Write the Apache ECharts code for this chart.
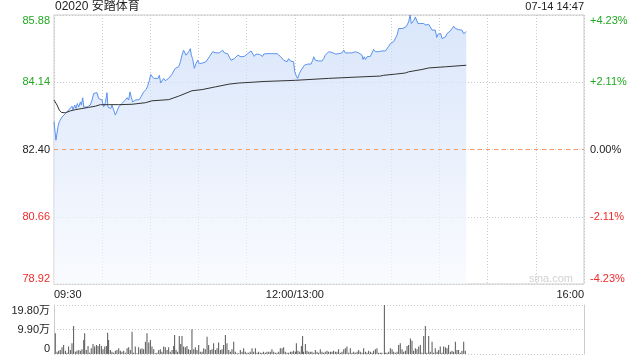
<!DOCTYPE html>
<html><head><meta charset="utf-8">
<script src="https://cdn.jsdelivr.net/npm/echarts@6.0.0/dist/echarts.min.js"></script>
<style>html,body{margin:0;padding:0;background:#fff}#c{width:640px;height:360px}</style>
</head><body><div id="c"></div>
<script>
const stockTitle = '02020 安踏体育';
const timestamp = '07-14 14:47';
const watermark = 'sina.com';
const prevClose = 82.40;
const priceTicks = [78.92, 80.66, 82.40, 84.14, 85.88];
const priceTickLabels = ['78.92', '80.66', '82.40', '84.14', '85.88'];
const pctTickLabels = ['-4.23%', '-2.11%', '0.00%', '+2.11%', '+4.23%'];
const timeTickMinutes = [0, 150, 330];
const timeTickLabels = ['09:30', '12:00/13:00', '16:00'];
const volTicks = [0, 9.9, 19.8];
const volTickLabels = ['0', '9.90万', '19.80万'];

// minutes since 09:30 (trading minutes) and prices
const priceMinutes = [0,1.2,2.5,3.3,4.2,5.0,6.0,7.1,8.1,9.1,10.2,11.2,11.8,12.9,13.7,14.5,15.4,16.4,17.0,17.9,18.5,19.5,20.6,21.6,22.6,23.7,24.7,25.7,26.8,27.8,28.9,29.9,30.9,32.0,33.0,33.6,34.5,35.3,36.1,37.2,38.2,39.2,40.3,41.3,42.3,43.4,44.4,45.5,46.5,47.3,48.2,49.0,49.6,50.6,51.7,53.1,54.4,55.8,57.3,58.3,59.4,60.2,61.0,62.1,63.5,64.8,65.6,66.4,67.3,68.3,69.3,70.4,71.4,72.4,73.5,74.5,75.6,76.6,77.6,78.7,79.7,80.7,81.4,82.2,82.8,83.9,84.9,85.5,86.3,87.4,88.4,89.5,90.5,91.5,92.6,93.6,94.6,95.7,96.7,97.8,98.8,99.8,100.9,101.9,102.9,104.0,105.0,106.1,107.1,108.1,109.2,110.2,111.3,112.3,113.3,114.4,115.4,116.4,117.5,118.5,119.6,120.6,121.6,122.7,123.7,124.7,125.8,126.8,127.9,128.9,129.9,130.6,131.6,132.6,133.7,134.7,135.7,136.8,137.8,138.9,139.9,140.9,142.0,143.0,144.0,145.1,146.1,147.2,148.2,149.2,149.9,150.7,151.7,152.8,153.8,154.8,155.9,156.9,157.9,159.0,160.0,161.1,161.7,162.7,163.8,164.8,165.8,166.9,167.9,168.9,170.0,171.0,172.1,173.1,174.1,175.2,176.2,177.3,178.3,179.3,180.4,181.4,182.4,183.5,184.5,185.6,186.6,187.6,188.7,189.7,190.7,191.8,192.4,193.2,193.9,194.9,195.9,197.0,198.0,199.0,200.1,201.1,202.2,203.2,204.2,205.3,206.3,207.3,208.4,209.4,210.5,211.5,212.5,213.6,214.6,215.6,216.7,217.7,218.8,219.8,220.8,221.7,222.5,223.3,224.2,225.0,225.8,226.6,227.5,228.3,229.1,230.0,230.8,231.6,232.5,233.3,234.3,235.4,236.4,237.4,238.3,239.1,239.9,240.8,241.6,242.6,243.7,244.7,245.7,246.8,247.8,248.9,249.9,250.9,252.0,253.0,254.0,255.1,256.1,256.7];
const prices = [83.12,82.64,82.99,83.12,83.07,83.24,83.20,83.33,83.35,83.42,83.42,83.52,83.43,83.55,83.46,83.59,83.50,83.63,83.55,83.74,83.50,83.55,83.50,83.52,83.55,83.68,83.85,83.90,83.87,83.72,83.69,83.68,83.50,83.61,83.87,83.50,83.55,83.46,83.55,83.50,83.29,83.29,83.50,83.55,83.59,83.55,83.68,83.74,83.68,83.89,83.74,83.63,83.61,83.68,83.69,83.69,83.78,83.89,83.95,84.04,84.19,84.34,84.30,84.24,84.24,84.24,84.32,84.12,84.12,84.24,84.18,84.21,84.24,84.28,84.35,84.43,84.50,84.50,84.54,84.67,84.84,84.97,85.01,84.84,84.80,84.93,85.01,84.84,84.75,84.50,84.62,84.71,84.62,84.67,84.64,84.67,84.67,84.71,84.80,84.84,84.93,84.88,84.90,84.87,84.90,84.87,84.97,84.90,84.95,84.88,84.90,84.71,84.75,84.75,84.80,84.84,84.88,84.80,84.75,84.81,84.84,84.88,84.91,84.95,84.93,84.81,84.87,84.84,84.86,84.84,84.81,84.87,84.84,84.88,84.93,84.88,84.86,84.88,84.87,84.88,84.84,84.81,84.80,84.71,84.67,84.67,84.75,84.69,84.73,84.67,84.41,84.32,84.24,84.37,84.45,84.50,84.58,84.61,84.61,84.61,84.61,84.71,84.80,84.71,84.73,84.69,84.71,84.69,84.75,84.84,84.88,84.93,84.88,84.91,84.90,84.87,84.84,84.88,84.88,84.90,84.97,84.90,84.90,84.90,84.93,84.90,84.93,84.93,84.88,84.90,84.88,84.84,84.73,84.80,84.73,84.80,84.84,84.81,84.90,84.99,84.93,84.95,84.93,84.97,84.95,84.95,84.95,84.93,85.07,85.14,85.19,85.19,85.16,85.36,85.53,85.56,85.53,85.53,85.56,85.62,85.70,85.88,85.66,85.62,85.75,85.83,85.79,85.66,85.62,85.66,85.62,85.66,85.69,85.62,85.64,85.64,85.62,85.49,85.44,85.49,85.30,85.38,85.36,85.40,85.27,85.25,85.31,85.40,85.44,85.47,85.53,85.59,85.53,85.50,85.50,85.49,85.49,85.40,85.44,85.45];

const avgMinutes = [0,1.9,3.3,4.6,7.1,10.2,13.3,17.4,21.6,25.7,28.9,34.0,40.3,48.6,56.9,61.0,71.4,77.6,85.9,92.2,100.5,108.8,115.0,123.3,130.8,150.3,171.0,191.8,203.2,205.3,212.5,218.8,220.8,229.1,233.3,243.7,256.7];
const avgPrices = [83.68,83.55,83.42,83.36,83.35,83.40,83.43,83.46,83.49,83.52,83.56,83.56,83.56,83.57,83.61,83.66,83.69,83.78,83.92,83.95,84.02,84.09,84.12,84.14,84.16,84.19,84.24,84.28,84.30,84.32,84.35,84.38,84.41,84.47,84.51,84.54,84.58];

// volume, in 万 shares
const volMinutes = [0.8,1.9,2.9,3.9,5.0,6.0,7.1,8.1,9.1,10.2,11.2,12.2,13.3,14.3,15.4,16.4,17.4,18.5,19.1,20.1,21.2,22.2,23.2,24.3,25.3,26.4,27.4,28.4,29.5,30.5,31.6,32.6,33.4,34.0,35.1,36.1,37.1,38.2,39.2,40.3,41.3,42.3,43.4,44.4,45.5,46.5,47.5,48.6,49.6,50.6,51.7,52.7,53.8,54.8,55.8,56.9,57.9,59.0,60.0,61.0,62.1,63.1,64.1,65.2,66.2,67.2,68.3,69.3,70.4,71.4,72.4,73.5,74.5,75.1,76.0,77.0,78.0,78.9,79.7,80.7,81.8,82.8,83.8,84.9,85.9,87.0,88.0,89.0,90.1,91.1,92.2,93.2,94.2,95.3,96.3,97.3,98.4,99.4,100.5,101.5,102.5,103.6,104.6,105.6,106.7,107.7,108.8,109.8,110.8,111.9,112.9,114.0,115.0,116.0,117.1,118.1,119.1,120.2,121.2,122.2,123.3,124.3,125.4,126.4,127.4,128.5,129.5,130.5,131.6,132.6,133.7,134.7,135.7,136.8,137.8,138.9,139.9,140.9,142.0,143.0,144.0,145.1,146.1,147.2,148.2,149.2,150.3,150.9,151.9,153.0,154.0,154.8,155.4,156.5,157.5,158.6,159.6,160.6,161.7,162.7,163.8,164.8,165.8,166.9,167.9,168.9,170.0,171.0,172.1,173.1,174.1,175.2,176.2,177.2,178.3,179.3,180.4,181.4,182.4,183.5,184.5,185.6,186.6,187.6,188.7,189.7,190.7,191.8,192.8,193.9,194.9,195.9,197.0,198.0,199.0,200.1,201.1,202.2,203.2,204.2,205.7,206.3,207.3,208.4,209.4,210.5,211.5,212.5,213.6,214.6,215.6,216.7,217.7,218.8,219.8,220.8,221.9,222.9,223.9,225.0,226.0,227.1,228.1,229.1,230.2,231.2,232.2,233.3,234.3,235.4,236.4,237.4,238.5,239.5,240.5,241.6,242.6,243.7,244.7,245.7,246.8,247.8,248.8,249.9,250.9,251.9,253.0,254.0,255.1,256.1];
const volumes = [8.4,0.9,1.3,1.6,2.7,3.6,1.3,0.5,3.0,1.6,4.3,11.3,0.9,1.3,1.6,1.3,1.9,5.7,8.4,1.6,3.2,0.5,2.3,4.0,3.0,3.6,3.2,4.0,3.2,1.9,3.0,3.2,8.6,5.7,1.6,0.9,0.5,1.3,1.6,2.3,1.3,0.9,1.3,0.5,2.3,2.7,1.6,9.0,0.5,3.0,0.3,2.7,1.9,2.3,1.9,5.0,8.4,4.6,5.7,3.0,1.9,0.3,0.5,1.6,1.9,0.9,3.0,2.7,1.6,2.7,0.9,1.6,3.2,7.7,1.6,0.9,7.3,4.0,7.3,3.0,2.7,3.2,1.9,1.6,10.0,1.9,2.7,1.6,3.6,0.9,0.9,2.3,1.9,7.0,3.6,1.6,1.9,4.3,1.6,2.3,4.6,1.6,1.9,3.6,7.7,4.3,1.6,0.9,1.9,5.0,0.9,0.3,0.3,1.6,0.9,2.3,0.9,0.5,0.5,0.9,2.3,0.9,2.3,0.5,0.9,0.5,0.5,0.9,0.5,0.9,0.9,0.9,1.9,0.9,0.5,0.5,0.9,2.3,2.3,2.7,0.9,0.5,0.5,0.9,0.9,1.3,0.9,4.3,1.3,0.9,3.2,7.3,0.9,4.0,1.3,0.9,0.9,0.9,0.5,1.6,0.9,0.5,1.9,0.9,0.5,0.9,1.3,0.9,0.9,0.9,1.3,0.9,0.9,1.9,0.5,0.9,1.9,2.3,3.0,0.5,2.3,0.5,0.9,0.5,0.9,1.6,0.9,0.5,2.3,0.9,0.5,1.3,0.9,0.5,1.3,1.9,2.3,0.5,0.5,0.5,19.8,0.5,0.5,0.9,2.3,1.9,0.9,0.5,0.9,3.6,4.3,1.9,0.9,1.3,3.2,3.6,6.3,5.4,1.3,2.3,1.9,3.0,3.6,0.5,7.3,11.3,0.5,7.3,0.9,5.0,0.5,2.3,0.9,1.6,3.0,0.5,3.0,2.7,2.3,3.6,0.9,1.3,0.9,5.0,1.6,1.6,0.5,1.3,5.0,1.3];

const FONT = '"Liberation Sans", Arial, "Noto Sans CJK SC", sans-serif';
const UP = '#22a822', DOWN = '#ee2a2a', FLAT = '#222';
function tickIndex(ticks, v) {
  let best = 0;
  ticks.forEach((t, i) => { if (Math.abs(t - v) < Math.abs(ticks[best] - v)) best = i; });
  return best;
}
function styleKey(i) { return i > 2 ? 'up' : (i < 2 ? 'dn' : 'eq'); }
const rich = {
  up: { color: UP, fontSize: 11, fontFamily: FONT },
  dn: { color: DOWN, fontSize: 11, fontFamily: FONT },
  eq: { color: FLAT, fontSize: 11, fontFamily: FONT }
};
const dotted = { color: '#c8c8c8', type: [1, 2], width: 1 };

const pricePoints = priceMinutes.map((m, i) => [m, prices[i]]);
const avgPoints = avgMinutes.map((m, i) => [m, avgPrices[i]]);
const volPoints = volMinutes.map((m, i) => [m, volumes[i]]);

const chart = echarts.init(document.getElementById('c'), null, { renderer: 'canvas' });
chart.setOption({
  animation: false,
  backgroundColor: '#fff',
  textStyle: { fontFamily: FONT },
  title: [
    { text: stockTitle, left: 50, top: -4, textStyle: { fontSize: 12, fontWeight: 'normal', color: '#222', fontFamily: FONT } },
    { text: timestamp, right: 51, top: -4, textStyle: { fontSize: 11, fontWeight: 'normal', color: '#222', fontFamily: FONT } }
  ],
  graphic: [{
    type: 'text', x: 573, y: 279, silent: true,
    style: { text: watermark, align: 'right', verticalAlign: 'middle', fill: '#d2d2d2', fontSize: 11, fontFamily: FONT }
  }],
  grid: [
    { left: 54, top: 15, width: 530, height: 269, show: true, borderColor: '#cccccc', borderWidth: 1 },
    { left: 54, top: 305, width: 530, height: 49, show: false }
  ],
  xAxis: [
    {
      type: 'value', gridIndex: 0, min: 0, max: 330, interval: 30,
      axisLine: { show: false }, axisTick: { show: false },
      splitLine: { show: true, lineStyle: dotted },
      axisLabel: {
        show: true, color: '#222', fontSize: 11, margin: 5, hideOverlap: false,
        showMinLabel: true, showMaxLabel: true, alignMinLabel: 'left', alignMaxLabel: 'right',
        formatter: v => { const k = timeTickMinutes.indexOf(Math.round(v)); return k >= 0 ? timeTickLabels[k] : ''; }
      }
    },
    {
      type: 'value', gridIndex: 1, min: 0, max: 330, interval: 30,
      axisLine: { show: false }, axisTick: { show: false }, splitLine: { show: false }, axisLabel: { show: false }
    }
  ],
  yAxis: [
    {
      type: 'value', gridIndex: 0, min: priceTicks[0], max: priceTicks[4], interval: 1.74,
      axisLine: { show: false }, axisTick: { show: false },
      splitLine: { show: true, lineStyle: dotted },
      axisLabel: {
        margin: 4, rich, verticalAlignMinLabel: 'bottom', verticalAlignMaxLabel: 'top',
        formatter: v => { const i = tickIndex(priceTicks, v); return '{' + styleKey(i) + '|' + priceTickLabels[i] + '}'; }
      }
    },
    {
      type: 'value', gridIndex: 0, position: 'right', min: priceTicks[0], max: priceTicks[4], interval: 1.74,
      axisLine: { show: false }, axisTick: { show: false }, splitLine: { show: false },
      axisLabel: {
        margin: 6, rich, verticalAlignMinLabel: 'bottom', verticalAlignMaxLabel: 'top',
        formatter: v => { const i = tickIndex(priceTicks, v); return '{' + styleKey(i) + '|' + pctTickLabels[i] + '}'; }
      }
    },
    {
      type: 'value', gridIndex: 1, min: 0, max: 19.8, interval: 9.9,
      axisLine: { show: true, lineStyle: { color: '#cccccc' } }, axisTick: { show: false },
      splitLine: { show: true, lineStyle: dotted },
      axisLabel: {
        margin: 4, color: '#222', fontSize: 11, verticalAlignMinLabel: 'bottom', verticalAlignMaxLabel: 'top',
        formatter: v => volTickLabels[tickIndex(volTicks, v)]
      }
    },
    {
      type: 'value', gridIndex: 1, position: 'right', min: 0, max: 19.8, interval: 9.9,
      axisLine: { show: true, lineStyle: { color: '#cccccc' } }, axisTick: { show: false },
      splitLine: { show: false }, axisLabel: { show: false }
    }
  ],
  series: [
    {
      type: 'line', xAxisIndex: 0, yAxisIndex: 0, data: pricePoints, showSymbol: false, symbol: 'none',
      lineStyle: { color: '#5a92ef', width: 1 },
      areaStyle: {
        origin: 'start',
        color: new echarts.graphic.LinearGradient(0, 0, 0, 1, [
          { offset: 0, color: '#c9dbf8' }, { offset: 1, color: '#f7f9fe' }
        ])
      },
      markLine: {
        silent: true, symbol: 'none', label: { show: false }, z: 10,
        lineStyle: { color: '#f39c6b', type: [4, 4], width: 1 },
        data: [{ yAxis: prevClose }]
      },
      z: 3
    },
    {
      type: 'line', xAxisIndex: 0, yAxisIndex: 0, data: avgPoints, showSymbol: false, symbol: 'none',
      lineStyle: { color: '#333', width: 1 }, z: 4
    },
    {
      type: 'bar', xAxisIndex: 1, yAxisIndex: 2, data: volPoints, barWidth: 1,
      itemStyle: { color: '#555' }
    }
  ]
});
</script></body></html>
